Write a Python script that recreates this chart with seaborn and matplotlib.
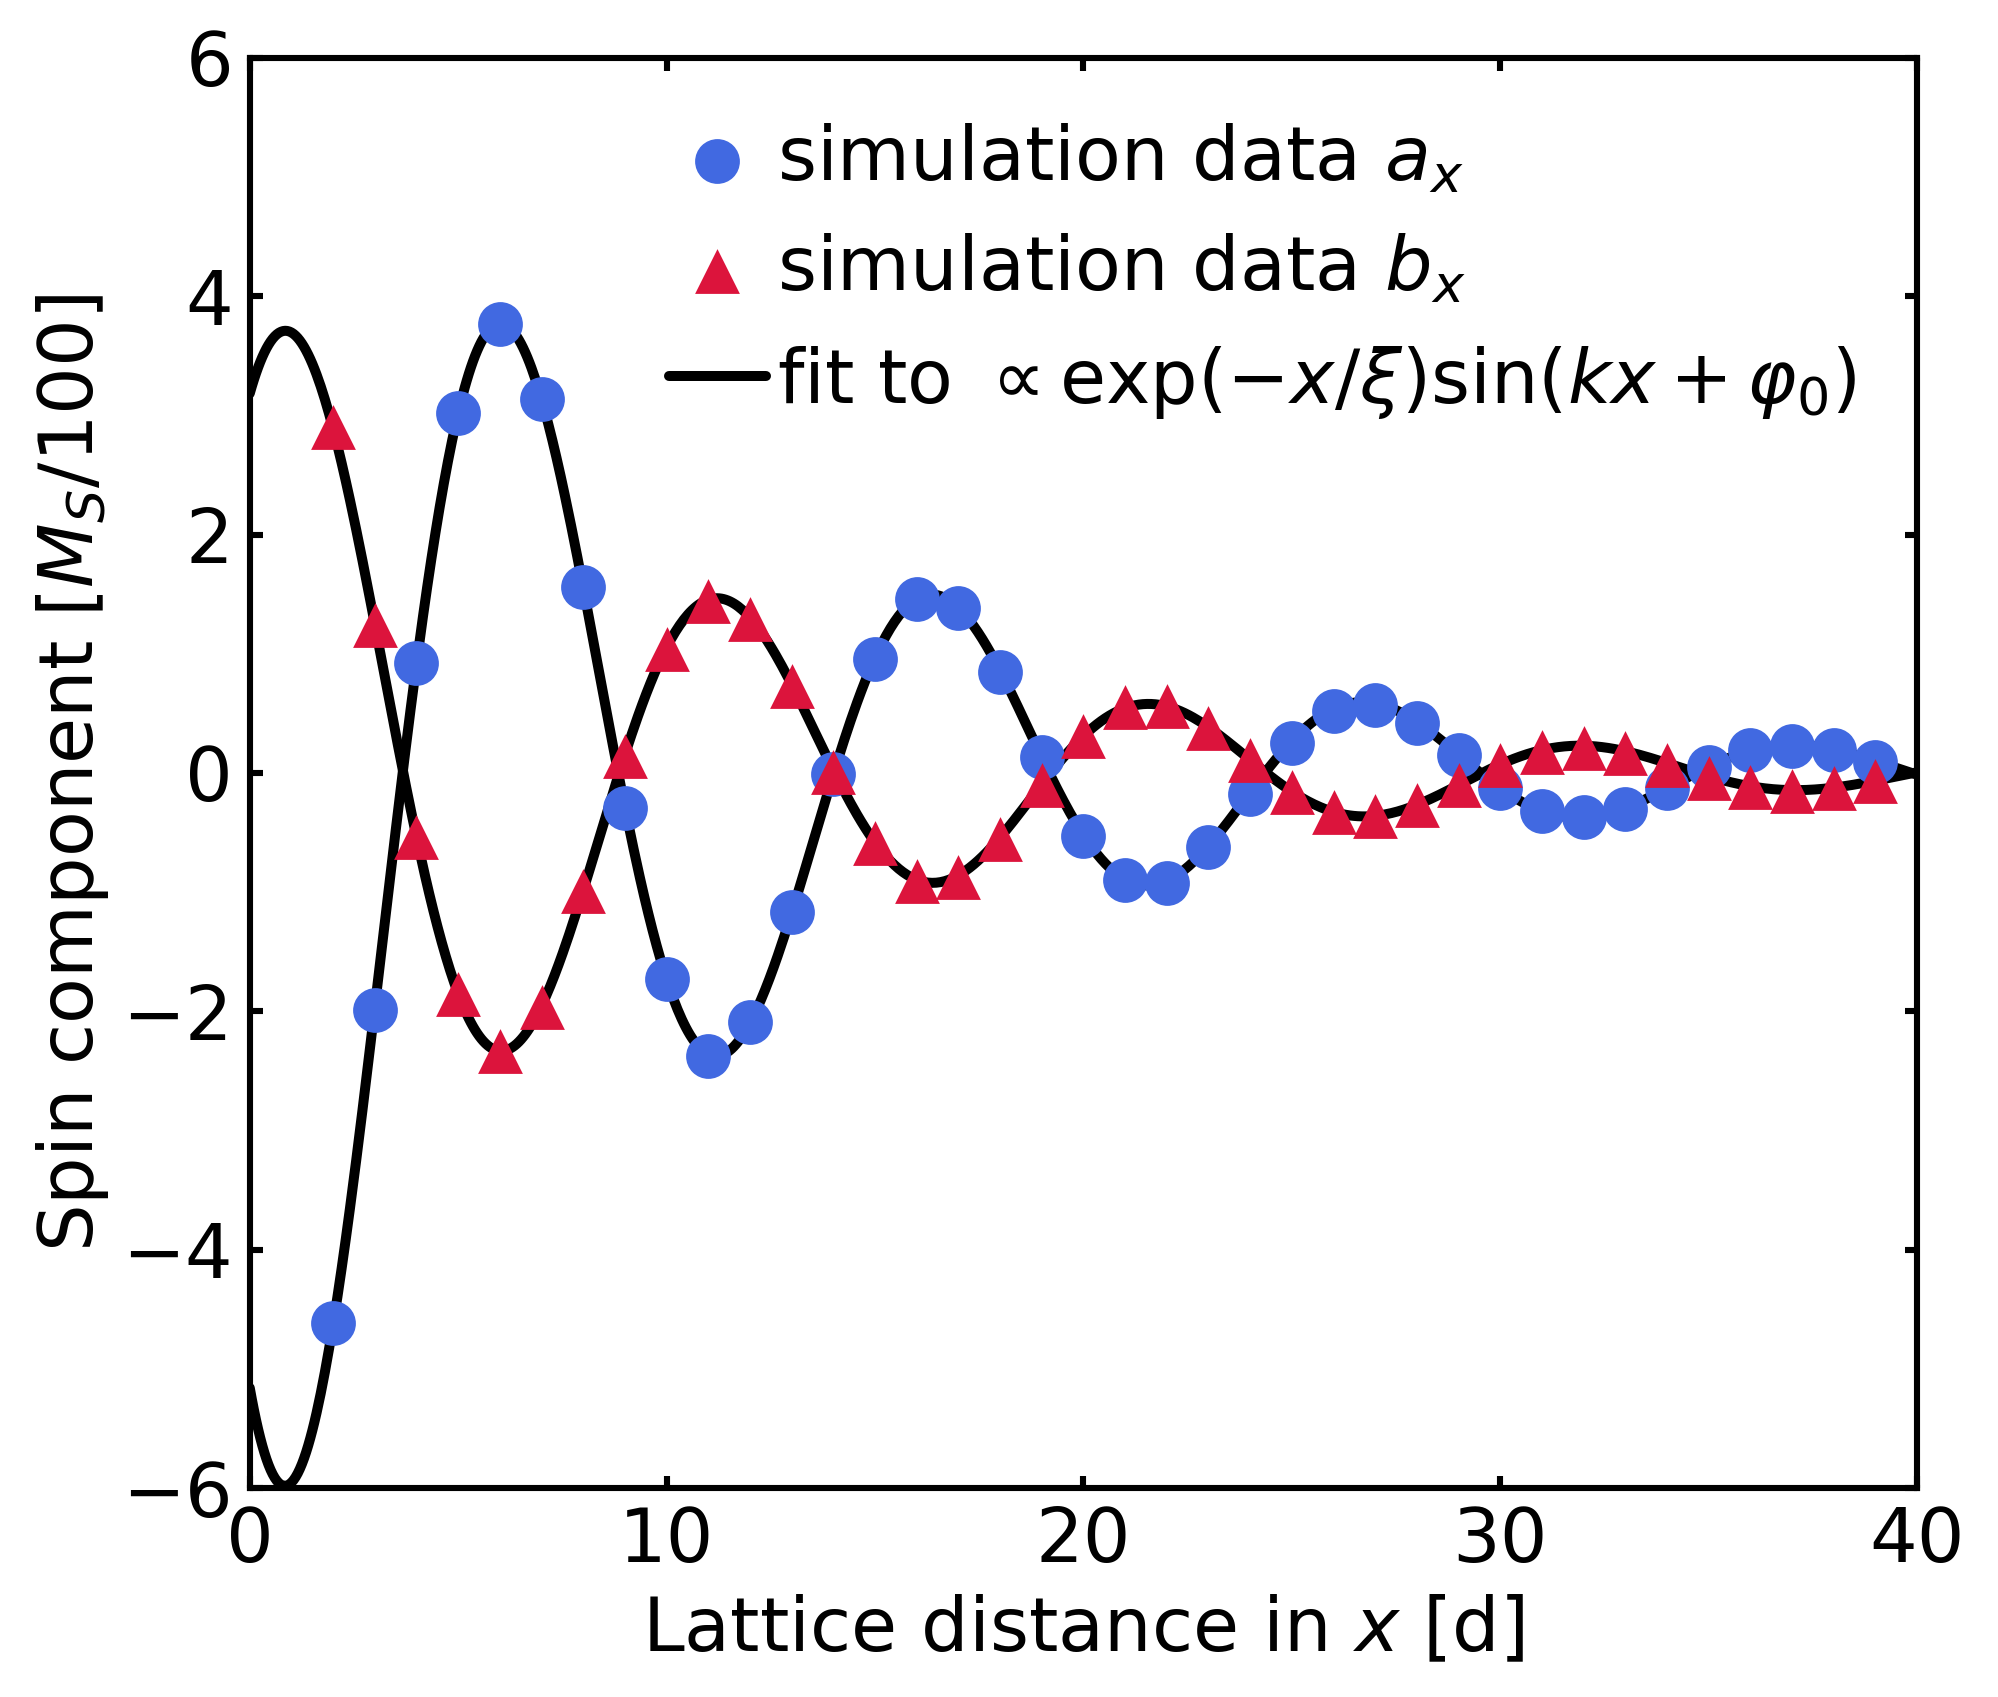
import numpy as np
import matplotlib
matplotlib.use("Agg")
import matplotlib.pyplot as plt
import seaborn as sns

# lattice positions and simulated spin components
x_sites = list(range(2, 40))
a_x = [-4.61, -1.99, 0.92, 3.02, 3.77, 3.14, 1.56, -0.29, -1.73, -2.37,
       -2.09, -1.17, -0.01, 0.96, 1.46, 1.38, 0.85, 0.13, -0.53, -0.90,
       -0.92, -0.62, -0.18, 0.25, 0.52, 0.57, 0.42, 0.15, -0.13, -0.32,
       -0.37, -0.30, -0.13, 0.05, 0.19, 0.23, 0.19, 0.09]
b_x = [2.90, 1.24, -0.54, -1.85, -2.33, -1.96, -0.99, 0.14, 1.04, 1.44,
       1.29, 0.73, 0.01, -0.59, -0.91, -0.87, -0.55, -0.10, 0.31, 0.55,
       0.56, 0.38, 0.11, -0.16, -0.33, -0.36, -0.27, -0.10, 0.07, 0.18,
       0.21, 0.17, 0.07, -0.04, -0.12, -0.15, -0.13, -0.07]

x_ticks = [0, 10, 20, 30, 40]
y_ticks = [-6, -4, -2, 0, 2, 4, 6]


def damped_fit(x, y):
    # least squares fit of exp(-x/xi) * (c1 sin kx + c2 cos kx)
    x = np.asarray(x, float)
    y = np.asarray(y, float)
    best = None
    for xi in np.arange(6.0, 20.0, 0.05):
        env = np.exp(-x / xi)
        for k in np.arange(0.55, 0.66, 0.0005):
            M = np.column_stack([env * np.sin(k * x), env * np.cos(k * x)])
            coef = np.linalg.lstsq(M, y, rcond=None)[0]
            err = np.sum((M @ coef - y) ** 2)
            if best is None or err < best[0]:
                best = (err, xi, k, coef)
    _, xi, k, coef = best
    xs = np.linspace(0, 40, 800)
    env = np.exp(-xs / xi)
    return xs, env * (coef[0] * np.sin(k * xs) + coef[1] * np.cos(k * xs))


xa, fa = damped_fit(x_sites, a_x)
xb, fb = damped_fit(x_sites, b_x)

sns.set_style("ticks")
plt.rcParams["font.family"] = ["DejaVu Sans"]
plt.rcParams["mathtext.fontset"] = "dejavusans"
for key in ["text.color", "axes.edgecolor", "axes.labelcolor",
            "xtick.color", "ytick.color"]:
    plt.rcParams[key] = "black"
fs = 27

fig, ax = plt.subplots(figsize=(9.99, 8.485), dpi=200)
fig.subplots_adjust(left=0.125, right=0.9595, bottom=0.123, top=0.966)

sns.lineplot(x=xa, y=fa, color="black", linewidth=3.6, ax=ax, zorder=2,
             label=r"fit to $\propto\exp(-x/\xi)\sin(kx+\varphi_0)$")
sns.lineplot(x=xb, y=fb, color="black", linewidth=3.6, ax=ax, zorder=2)
sns.scatterplot(x=x_sites, y=a_x, marker="o", s=260, color="royalblue",
                linewidth=0, ax=ax, zorder=3, label=r"simulation data $a_x$")
sns.scatterplot(x=x_sites, y=b_x, marker="^", s=260, color="crimson",
                linewidth=0, ax=ax, zorder=3, label=r"simulation data $b_x$")

ax.set_xlim(0, 40)
ax.set_ylim(-6, 6)
ax.set_xticks(x_ticks)
ax.set_yticks(y_ticks)
ax.tick_params(direction="in", top=True, right=True, length=4.5, width=2.2,
               labelsize=fs, pad=6)
for sp in ax.spines.values():
    sp.set_linewidth(2.2)
    sp.set_color("black")
ax.set_xlabel(r"Lattice distance in $x$ [d]", fontsize=fs, labelpad=6)
ax.set_ylabel(r"Spin component [$M_S/100$]", fontsize=fs, labelpad=4)

handles, labels = ax.get_legend_handles_labels()
order = [1, 2, 0]
ax.legend([handles[i] for i in order], [labels[i] for i in order],
          loc="upper right", frameon=False, fontsize=fs, handlelength=1.3,
          handletextpad=0.15, labelspacing=0.49, borderaxespad=0.4,
          bbox_to_anchor=(1.0, 0.996))

fig.savefig("out.png", dpi=200)
